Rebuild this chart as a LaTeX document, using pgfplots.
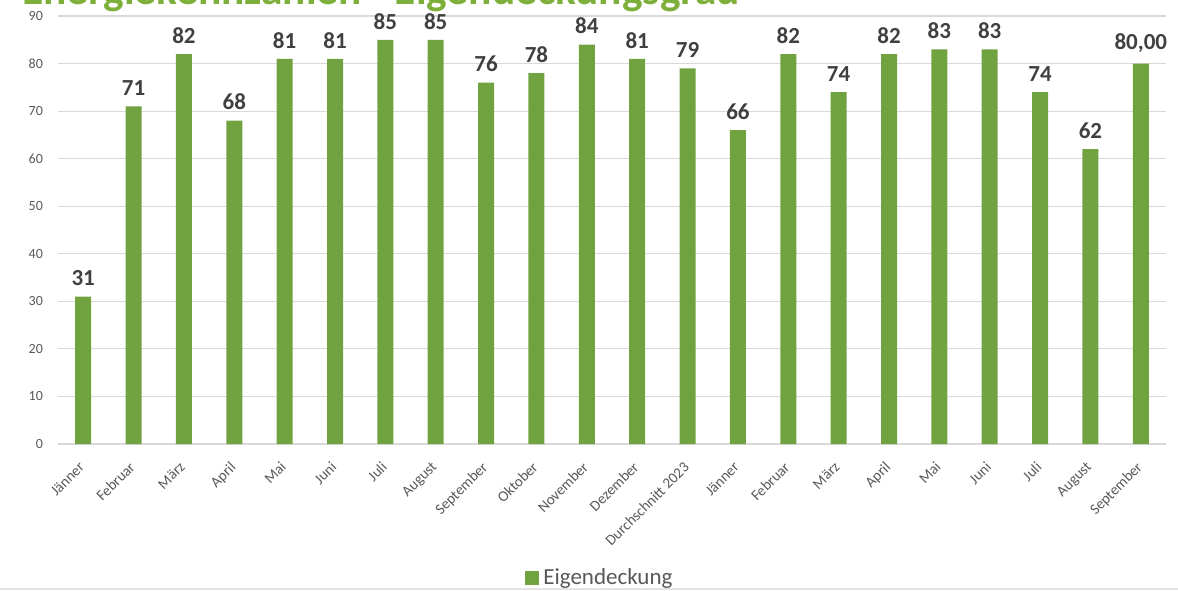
\documentclass[border=0pt]{standalone}
\usepackage{pgfplots}
\pgfplotsset{compat=1.18}
\usepackage{fontspec}
\setmainfont{Carlito}
\definecolor{bargreen}{HTML}{70A340}
\definecolor{titlegreen}{HTML}{7DB03A}
\definecolor{txtgray}{HTML}{595959}
\definecolor{lblgray}{HTML}{404040}
\definecolor{gridgray}{HTML}{D9D9D9}
\begin{document}
\begin{tikzpicture}
\path[use as bounding box, clip] (-29pt,-73pt) rectangle (560pt,222pt);
\begin{axis}[
  at={(0,0)}, anchor=south west,
  scale only axis, width=554pt, height=214pt,
  xmin=-0.5, xmax=21.5, ymin=0, ymax=90,
  ybar, bar width=8pt,
  xtick=data,
  xticklabels={J\"anner,Februar,M\"arz,April,Mai,Juni,Juli,August,September,Oktober,November,Dezember,Durchschnitt 2023,J\"anner,Februar,M\"arz,April,Mai,Juni,Juli,August,September},
  ytick={0,10,...,90},
  /pgf/number format/assume math mode=true,
  ymajorgrids, grid style={gridgray, line width=0.6pt},
  axis x line*=bottom, axis y line*=left,
  x axis line style={gridgray, line width=0.6pt, -},
  y axis line style={draw=none},
  major tick length=0pt,
  x tick label style={xshift=-2.5pt, yshift=-3.5pt, rotate=45, anchor=north east, font=\fontsize{7.5}{8}\selectfont, text=txtgray},
  y tick label style={font=\fontsize{7}{8}\selectfont, text=txtgray, xshift=-4pt},
  nodes near coords, point meta=explicit symbolic,
  every node near coord/.append style={font=\bfseries\fontsize{11.5}{12}\selectfont, text=lblgray, yshift=1.7pt},
  legend style={draw=none, at={(0.49,-0.313)}, anchor=center, font=\fontsize{11.5}{13}\selectfont, text=txtgray, inner sep=0pt},
  legend image code/.code={\fill[bargreen] (0pt,-3.5pt) rectangle (7pt,3.5pt);},
]
\addplot[fill=bargreen, draw=none] coordinates {
 (0,31) [31] (1,71) [71] (2,82) [82] (3,68) [68] (4,81) [81] (5,81) [81]
 (6,85) [85] (7,85) [85] (8,76) [76] (9,78) [78] (10,84) [84] (11,81) [81]
 (12,79) [79] (13,66) [66] (14,82) [82] (15,74) [74] (16,82) [82] (17,83) [83]
 (18,83) [83] (19,74) [74] (20,62) [62] (21,80) [{80,00}]
};
\addlegendentry{Eigendeckung}
\node[font=\bfseries\fontsize{10.5}{12}\selectfont, text=lblgray] at (axis cs:-0.5,34) [xshift=-20pt] {\%};
\end{axis}
\node[anchor=base west, font=\bfseries\fontsize{21.7}{24}\selectfont, text=titlegreen, inner sep=0pt] at (-18pt,219.5pt) {Energiekennzahlen - Eigendeckungsgrad};
\draw[gridgray!70, line width=1pt] (-29pt,-72.5pt) -- (560pt,-72.5pt);
\end{tikzpicture}
\end{document}
